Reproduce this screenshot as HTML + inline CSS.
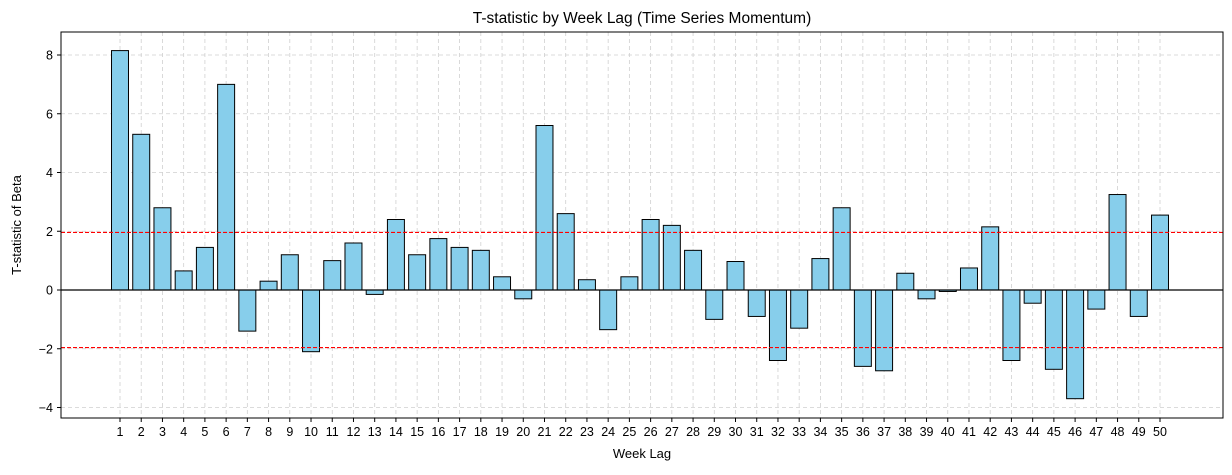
<!DOCTYPE html>
<html><head><meta charset="utf-8"><style>
body{margin:0;background:#fff;font-family:"Liberation Sans","DejaVu Sans",sans-serif;}
svg text{font-family:"Liberation Sans","DejaVu Sans",sans-serif;fill:#000;}
</style></head><body>
<svg id="chart" width="1232" height="470" xmlns="http://www.w3.org/2000/svg">
<rect width="1232" height="470" fill="#fff"/>
<text x="642" y="23" font-size="15.5" text-anchor="middle">T-statistic by Week Lag (Time Series Momentum)</text>
<g id="grid"></g><g id="bars"></g><g id="ref"></g><g id="axes"></g>
<text x="642" y="458" font-size="13" text-anchor="middle">Week Lag</text>
<text transform="translate(21,225) rotate(-90)" font-size="13" text-anchor="middle">T-statistic of Beta</text>
</svg>
<script>
const lags=[];for(let i=1;i<=50;i++)lags.push(i);
const tstats=[8.15,5.3,2.8,0.65,1.45,7.0,-1.4,0.3,1.2,-2.1,1.0,1.6,-0.15,2.4,1.2,1.75,1.45,1.35,0.45,-0.3,5.6,2.6,0.35,-1.35,0.45,2.4,2.2,1.35,-1.0,0.97,-0.9,-2.4,-1.3,1.07,2.8,-2.6,-2.75,0.57,-0.3,-0.05,0.75,2.15,-2.4,-0.45,-2.7,-3.7,-0.65,3.25,-0.9,2.55];
const yTicks=[-4,-2,0,2,4,6,8];
const refLevels=[1.96,-1.96];
const L=61,R=1223,T=32,B=418;
const xs=i=>120+(i-1)*(1040/49);
const ys=v=>290-v*29.375;
const NS='http://www.w3.org/2000/svg';
function mk(tag,attrs,parent){const e=document.createElementNS(NS,tag);for(const k in attrs)e.setAttribute(k,attrs[k]);document.getElementById(parent).appendChild(e);return e;}
yTicks.forEach(t=>{
 const g=mk('line',{x1:L,x2:R,y1:ys(t),y2:ys(t),stroke:'#d0d0d0','stroke-dasharray':'4,3','stroke-width':0.8},'grid');
 
 
 mk('line',{x1:L-4,x2:L,y1:ys(t),y2:ys(t),stroke:'#000'},'axes');
 const tx=mk('text',{x:L-8,y:ys(t)+4.5,'font-size':12.5,'text-anchor':'end'},'axes');tx.textContent=(t<0?'\u2212'+Math.abs(t):String(t));
 
 
});
const bw=0.8*(1040/49);
lags.forEach((l,i)=>{
 const x=xs(l);
 const g=mk('line',{x1:x,x2:x,y1:T,y2:B,stroke:'#d0d0d0','stroke-dasharray':'4,3','stroke-width':0.8},'grid');
 
 
 const v=tstats[i];
 const r=mk('rect',{x:x-bw/2,y:Math.min(ys(v),ys(0)),width:bw,height:Math.abs(ys(v)-ys(0)),fill:'#87ceeb',stroke:'#000','stroke-width':1},'bars');
 
 
 mk('line',{x1:x,x2:x,y1:B,y2:B+4,stroke:'#000'},'axes');
 const tx=mk('text',{x:x,y:B+18,'font-size':12.5,'text-anchor':'middle'},'axes');tx.textContent=l;
 
 
});
refLevels.forEach(v=>{
 const l=mk('line',{x1:L,x2:R,y1:ys(v),y2:ys(v),stroke:'#f00','stroke-dasharray':'4,2','stroke-width':1.2},'ref');
 
 
});
const z=mk('line',{x1:L,x2:R,y1:ys(0),y2:ys(0),stroke:'#000','stroke-width':1.2},'ref');


const f=mk('rect',{x:L,y:T,width:R-L,height:B-T,fill:'none',stroke:'#000','stroke-width':1},'axes');


</script>
</body></html>
